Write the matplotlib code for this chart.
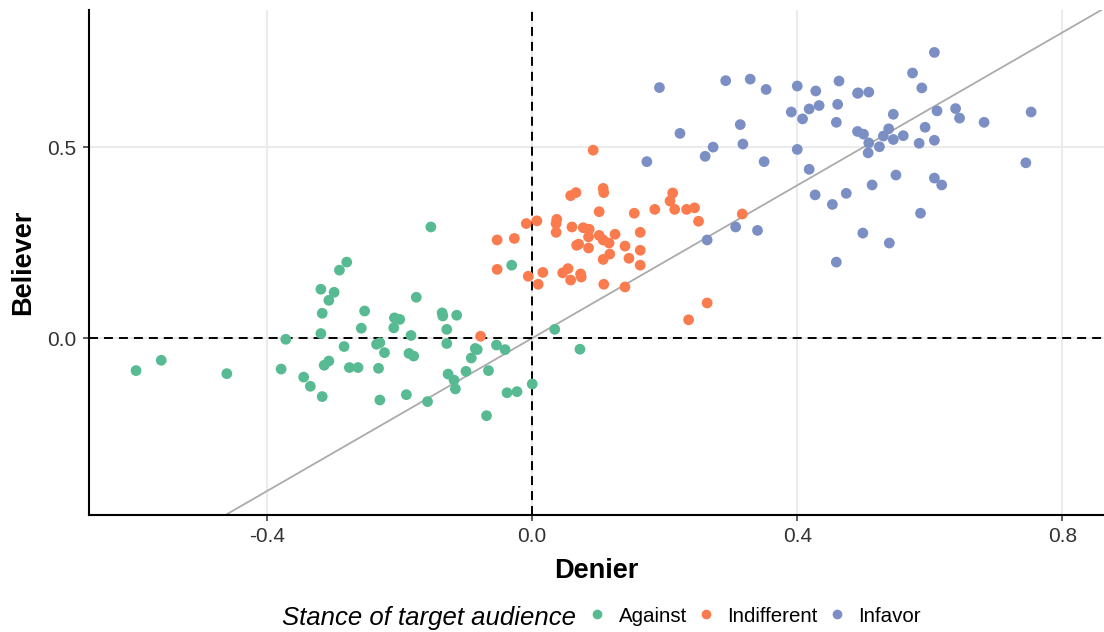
import matplotlib
matplotlib.use("Agg")
import matplotlib.pyplot as plt
from matplotlib.lines import Line2D

plt.rcParams['font.family'] = ['Liberation Sans', 'DejaVu Sans']

# Against (green)
against_x = [-0.598, -0.560, -0.461, -0.379, -0.372, -0.345, -0.335, -0.317, -0.314, -0.307,
             -0.319, -0.317, -0.307, -0.319, -0.299, -0.291, -0.280, -0.153, -0.253, -0.175,
             -0.208, -0.200, -0.209, -0.258, -0.136, -0.135, -0.114, -0.129, -0.183, -0.284,
             -0.235, -0.230, -0.223, -0.186, -0.179, -0.129, -0.086, -0.083, -0.092, -0.054,
             -0.041, -0.276, -0.263, -0.232, -0.127, -0.118, -0.116, -0.100, -0.066, -0.230,
             -0.190, -0.158, -0.069, -0.038, -0.023, 0.000, -0.031, 0.034, 0.072]
against_y = [-0.085, -0.058, -0.093, -0.081, -0.003, -0.102, -0.126, -0.153, -0.071, -0.060,
             0.012, 0.065, 0.099, 0.128, 0.120, 0.178, 0.199, 0.291, 0.071, 0.107,
             0.053, 0.049, 0.027, 0.026, 0.066, 0.058, 0.060, 0.023, 0.007, -0.022,
             -0.016, -0.012, -0.038, -0.040, -0.047, -0.014, -0.027, -0.030, -0.052, -0.018,
             -0.030, -0.077, -0.077, -0.079, -0.094, -0.110, -0.133, -0.087, -0.085, -0.162,
             -0.148, -0.166, -0.203, -0.143, -0.140, -0.120, 0.191, 0.023, -0.029]

# Indifferent (orange)
indiff_x = [-0.009, 0.007, -0.053, -0.027, -0.053, -0.006, 0.016, 0.009, -0.078, 0.092,
            0.058, 0.066, 0.107, 0.108, 0.101, 0.154, 0.185, 0.212, 0.208, 0.215,
            0.233, 0.245, 0.251, 0.037, 0.036, 0.036, 0.060, 0.077, 0.086, 0.085,
            0.101, 0.107, 0.116, 0.125, 0.163, 0.067, 0.070, 0.085, 0.140, 0.163,
            0.117, 0.107, 0.146, 0.163, 0.046, 0.054, 0.058, 0.073, 0.074, 0.108,
            0.140, 0.236, 0.317, 0.264]
indiff_y = [0.300, 0.307, 0.257, 0.261, 0.180, 0.162, 0.172, 0.141, 0.005, 0.492,
            0.373, 0.381, 0.392, 0.381, 0.331, 0.327, 0.337, 0.380, 0.359, 0.337,
            0.337, 0.341, 0.306, 0.311, 0.300, 0.277, 0.291, 0.289, 0.285, 0.265,
            0.269, 0.257, 0.249, 0.272, 0.277, 0.243, 0.246, 0.236, 0.241, 0.230,
            0.220, 0.206, 0.209, 0.191, 0.171, 0.182, 0.152, 0.168, 0.160, 0.141,
            0.134, 0.048, 0.325, 0.092]

# Infavor (blue)
infavor_x = [0.223, 0.173, 0.192, 0.292, 0.329, 0.353, 0.400, 0.428, 0.463, 0.491,
             0.391, 0.408, 0.418, 0.433, 0.461, 0.459, 0.491, 0.314, 0.273, 0.261,
             0.318, 0.350, 0.400, 0.418, 0.427, 0.474, 0.453, 0.307, 0.340, 0.264,
             0.459, 0.607, 0.574, 0.588, 0.492, 0.508, 0.545, 0.611, 0.639, 0.645,
             0.682, 0.753, 0.500, 0.538, 0.530, 0.508, 0.545, 0.560, 0.593, 0.584,
             0.607, 0.524, 0.507, 0.745, 0.549, 0.607, 0.618, 0.513, 0.586, 0.499,
             0.539]
infavor_y = [0.536, 0.462, 0.656, 0.674, 0.678, 0.651, 0.660, 0.647, 0.673, 0.641,
             0.592, 0.574, 0.600, 0.609, 0.612, 0.565, 0.541, 0.559, 0.500, 0.476,
             0.508, 0.462, 0.494, 0.442, 0.375, 0.379, 0.350, 0.291, 0.282, 0.257,
             0.199, 0.748, 0.694, 0.655, 0.642, 0.644, 0.586, 0.595, 0.601, 0.576,
             0.565, 0.592, 0.534, 0.548, 0.529, 0.511, 0.520, 0.530, 0.552, 0.510,
             0.518, 0.501, 0.485, 0.459, 0.427, 0.419, 0.401, 0.401, 0.327, 0.275,
             0.249]

groups = ["Against", "Indifferent", "Infavor"]
colors = ["#57BA92", "#FA7B4E", "#7C8FC5"]
x_ticks = [-0.4, 0.0, 0.4, 0.8]
y_ticks = [0.0, 0.5]

fig = plt.figure(figsize=(11.04, 6.32), dpi=100)
ax = fig.add_axes([89 / 1104, 117 / 632, 1 - 89 / 1104, 505 / 632])

ax.set_xlim(-0.669, 0.863)
ax.set_ylim(-0.463, 0.859)

ax.set_xticks(x_ticks)
ax.set_xticklabels(["-0.4", "0.0", "0.4", "0.8"])
ax.set_yticks(y_ticks)
ax.set_yticklabels(["0.0", "0.5"])
ax.grid(True, color="#EBEBEB", linewidth=1.4, zorder=0)
ax.set_axisbelow(True)

# y = x reference line
ax.plot([-1, 1], [-1, 1], color="#ABABAB", linewidth=1.3, zorder=1)
ax.axhline(0, color="black", linewidth=1.4, dashes=(4.6, 3.1), zorder=2)
ax.axvline(0, color="black", linewidth=1.4, dashes=(4.6, 3.1), zorder=2)

data = [(against_x, against_y), (indiff_x, indiff_y), (infavor_x, infavor_y)]
for (xs, ys), c in zip(data, colors):
    ax.scatter(xs, ys, s=60, color=c, edgecolors="none", zorder=3)

for side in ["top", "right"]:
    ax.spines[side].set_visible(False)
for side in ["left", "bottom"]:
    ax.spines[side].set_linewidth(1.5)
    ax.spines[side].set_color("black")
ax.tick_params(axis="both", direction="out", length=4, width=1.1, color="#333333",
               labelsize=15, labelcolor="#333333", pad=5)

ax.set_xlabel("Denier", fontsize=19.5, fontweight="bold", labelpad=8)
ax.set_ylabel("Believer", fontsize=19.5, fontweight="bold", labelpad=8)

# legend at bottom
fig.text(576 / 1104, 1 - 618 / 632, "Stance of target audience", fontsize=18.5,
         style="italic", ha="right", va="center")
handles = [Line2D([], [], marker="o", linestyle="none", markersize=7,
                  markerfacecolor=c, markeredgecolor="none") for c in colors]
fig.legend(handles, groups, loc="center left", bbox_to_anchor=(587 / 1104, 1 - 616 / 632),
           ncol=3, frameon=False, fontsize=14.8, handletextpad=0.55, columnspacing=0.42,
           handlelength=1.0, borderaxespad=0, borderpad=0)

fig.savefig("out.png", dpi=100)
